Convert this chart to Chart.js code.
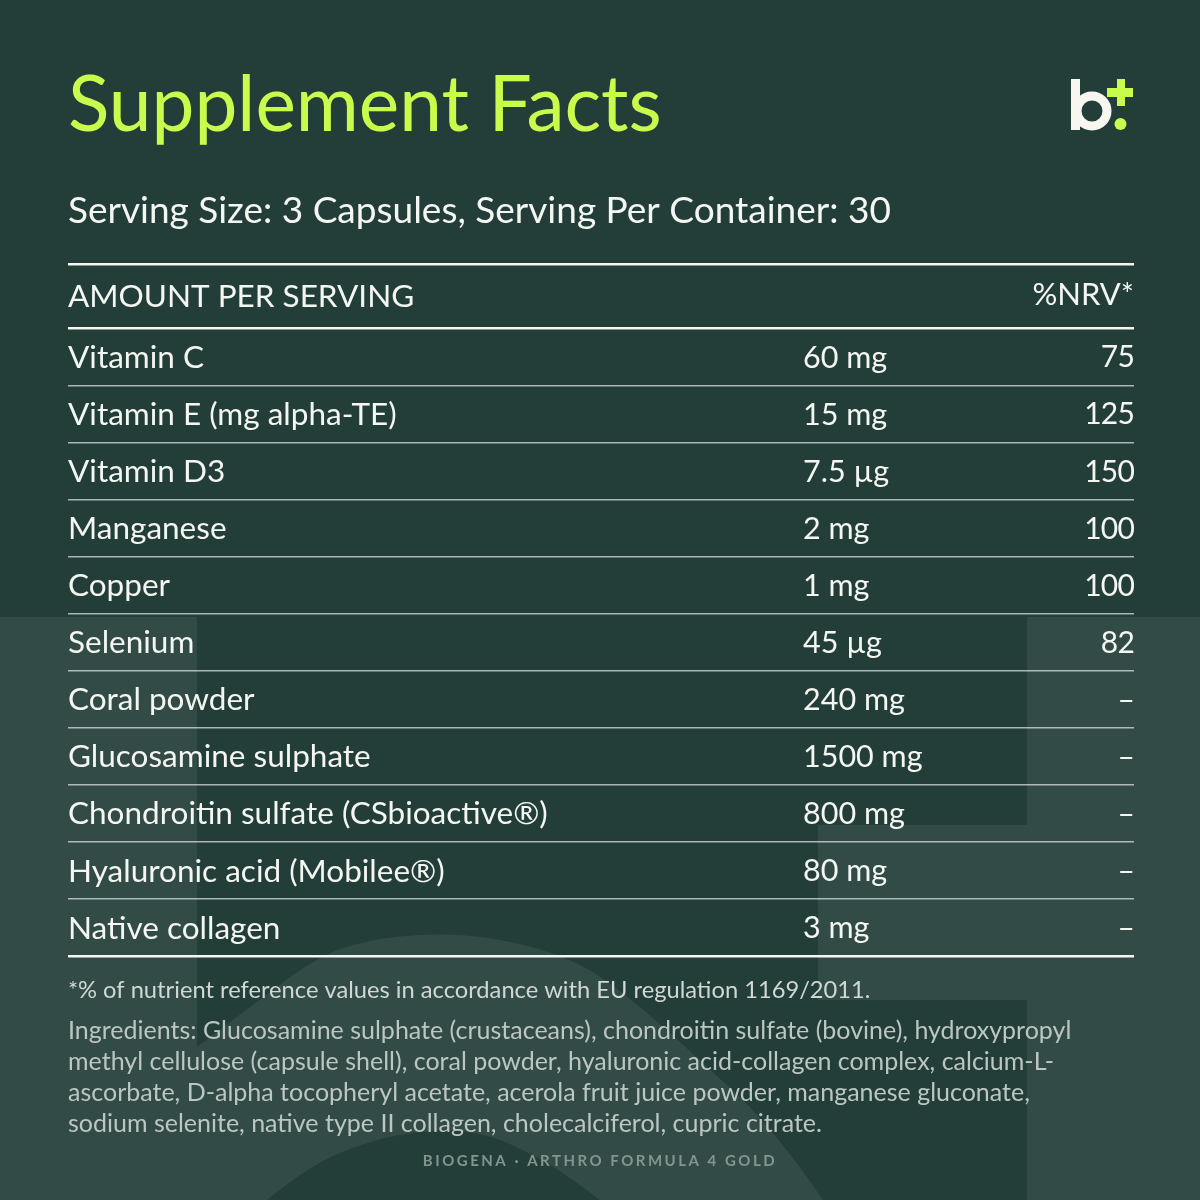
<!DOCTYPE html>
<html>
<head>
<meta charset="utf-8">
<title>Supplement Facts</title>
<script src="https://cdn.jsdelivr.net/npm/chart.js@4"></script>
<style>
  html, body { margin: 0; padding: 0; background: #233e39; }
  canvas { display: block; }
</style>
</head>
<body>
<canvas id="myChart" width="1200" height="1200"></canvas>
<script>
const nutrients = ['Vitamin C', 'Vitamin E (mg alpha-TE)', 'Vitamin D3', 'Manganese', 'Copper', 'Selenium',
    'Coral powder', 'Glucosamine sulphate', 'Chondroitin sulfate (CSbioactive®)', 'Hyaluronic acid (Mobilee®)', 'Native collagen']
const amounts = ['60 mg', '15 mg', '7.5 µg', '2 mg', '1 mg', '45 µg', '240 mg', '1500 mg', '800 mg', '80 mg', '3 mg']
const nrv = ['75', '125', '150', '100', '100', '82', '–', '–', '–', '–', '–']
const ingredients = [
    'Ingredients: Glucosamine sulphate (crustaceans), chondroitin sulfate (bovine), hydroxypropyl',
    'methyl cellulose (capsule shell), coral powder, hyaluronic acid-collagen complex, calcium-L-',
    'ascorbate, D-alpha tocopheryl acetate, acerola fruit juice powder, manganese gluconate,',
    'sodium selenite, native type II collagen, cholecalciferol, cupric citrate.'
]

const FONT = 'Lato'
const LIME = '#c9fb4c'
const DARK = '#233e39'
const LIGHT = '#324b46'

// draw a smooth curve through a list of points
function curve(c, pts) {
    for (let i = 1; i < pts.length - 1; i++) {
        const mx = (pts[i][0] + pts[i + 1][0]) / 2
        const my = (pts[i][1] + pts[i + 1][1]) / 2
        c.quadraticCurveTo(pts[i][0], pts[i][1], mx, my)
    }
    const last = pts[pts.length - 1]
    c.lineTo(last[0], last[1])
}

function text(c, str, x, y, size, color, align, weight, spacing) {
    c.font = (weight || 400) + ' ' + size + 'px ' + FONT
    c.fillStyle = color
    c.textAlign = align || 'left'
    c.textBaseline = 'middle'
    c.letterSpacing = (spacing || 0) + 'px'
    c.fillText(str, x, y)
    c.letterSpacing = '0px'
}

const backdrop = {
    id: 'backdrop',
    beforeDraw(chart) {
        // nudge the row names down a little so they sit mid row like the amounts
        chart.scales.y.getLabelItems().forEach(item => {
            if (!item.nudged) {
                item.options.translation[1] += 1
                item.nudged = true
            }
        })

        const c = chart.ctx
        c.save()
        c.fillStyle = DARK
        c.fillRect(0, 0, 1200, 1200)
        c.fillStyle = LIGHT
        c.fillRect(0, 617, 1200, 583)

        // big faded logo shape behind the table
        c.fillStyle = DARK
        c.beginPath()
        c.moveTo(197, 617)
        c.lineTo(1027, 617)
        c.lineTo(1027, 825)
        c.lineTo(818, 825)
        c.lineTo(818, 1000)
        c.lineTo(1027, 1000)
        c.lineTo(1027, 1200)
        c.lineTo(823, 1200)
        curve(c, [[823, 1200], [775, 1130], [700, 1060], [633, 1000], [577, 960], [500, 938],
            [433, 933], [367, 940], [317, 957], [250, 1007], [197, 1047]])
        c.closePath()
        c.fill()

        c.beginPath()
        c.moveTo(267, 1200)
        curve(c, [[267, 1200], [300, 1173], [350, 1147], [417, 1130], [483, 1131], [550, 1163], [600, 1200]])
        c.closePath()
        c.fill()
        c.restore()
    }
}

const tableText = {
    id: 'tableText',
    afterDatasetsDraw(chart) {
        const c = chart.ctx
        c.save()

        // header
        c.fillStyle = '#f4f6f2'
        c.fillRect(68, 263, 1066, 2.5)
        text(c, 'AMOUNT PER SERVING', 68, 297, 31.5, '#f4f6f2')
        text(c, '%NRV*', 1134, 295, 31, '#f4f6f2', 'right')

        // cell values sit on the points of the two datasets
        chart.getDatasetMeta(0).data.forEach((pt, i) => {
            text(c, amounts[i], pt.x, pt.y + 1, 30.5, '#f4f6f2', 'left')
        })
        chart.getDatasetMeta(1).data.forEach((pt, i) => {
            text(c, nrv[i], pt.x, pt.y + 1, 30, '#f4f6f2', 'right', 400, -0.8)
        })

        // notes
        text(c, '*% of nutrient reference values in accordance with EU regulation 1169/2011.', 68, 990, 23.7, '#d0d7d4')
        ingredients.forEach((line, i) => {
            text(c, line, 68, 1031 + i * 31, 25, '#bcc6c2')
        })
        text(c, 'BIOGENA · ARTHRO FORMULA 4 GOLD', 600, 1161, 15, '#84958f', 'center', 700, 2.5)

        // logo top right
        c.fillStyle = '#f7f6f0'
        c.fillRect(1071, 79, 9, 51)
        c.strokeStyle = '#f7f6f0'
        c.lineWidth = 9
        c.beginPath()
        c.arc(1092, 111, 15, 0, Math.PI * 2)
        c.stroke()
        c.fillStyle = LIME
        c.fillRect(1117, 79, 8, 27)
        c.fillRect(1107, 88, 26, 9)
        c.beginPath()
        c.arc(1120.5, 124, 6, 0, Math.PI * 2)
        c.fill()

        c.restore()
    }
}

const ctx = document.getElementById('myChart').getContext('2d')

new Chart(ctx, {
    type: 'scatter',
    data: {
        labels: nutrients,
        datasets: [
            { label: 'Amount', data: nutrients.map(n => ({ x: 735, y: n })), pointRadius: 0 },
            { label: '%NRV', data: nutrients.map(n => ({ x: 1066, y: n })), pointRadius: 0 }
        ]
    },
    options: {
        responsive: false,
        animation: false,
        layout: { padding: { left: 68, right: 66, top: 0, bottom: 244 } },
        plugins: {
            legend: { display: false },
            tooltip: { enabled: false },
            title: {
                display: true,
                text: 'Supplement Facts',
                align: 'start',
                color: LIME,
                font: { family: FONT, size: 76.6, weight: '400' },
                padding: { top: 60, bottom: 36.9 }
            },
            subtitle: {
                display: true,
                text: 'Serving Size: 3 Capsules, Serving Per Container: 30',
                align: 'start',
                color: '#f4f6f2',
                font: { family: FONT, size: 37, weight: '400' },
                padding: { top: 0, bottom: 95 }
            }
        },
        scales: {
            x: { type: 'linear', min: 0, max: 1066, display: false },
            y: {
                type: 'category',
                labels: nutrients,
                offset: true,
                border: { display: false },
                grid: {
                    offset: true,
                    drawTicks: false,
                    color: c => (c.index === undefined || c.index === 0) ? '#f4f6f2' : 'rgba(255,255,255,0.62)',
                    lineWidth: c => (c.index === undefined || c.index === 0) ? 2.5 : 1.5
                },
                ticks: {
                    mirror: true,
                    padding: 0,
                    color: '#f4f6f2',
                    autoSkip: false,
                    font: { family: FONT, size: 31.5, weight: '400' }
                }
            }
        }
    },
    plugins: [backdrop, tableText]
})
</script>
</body>
</html>
